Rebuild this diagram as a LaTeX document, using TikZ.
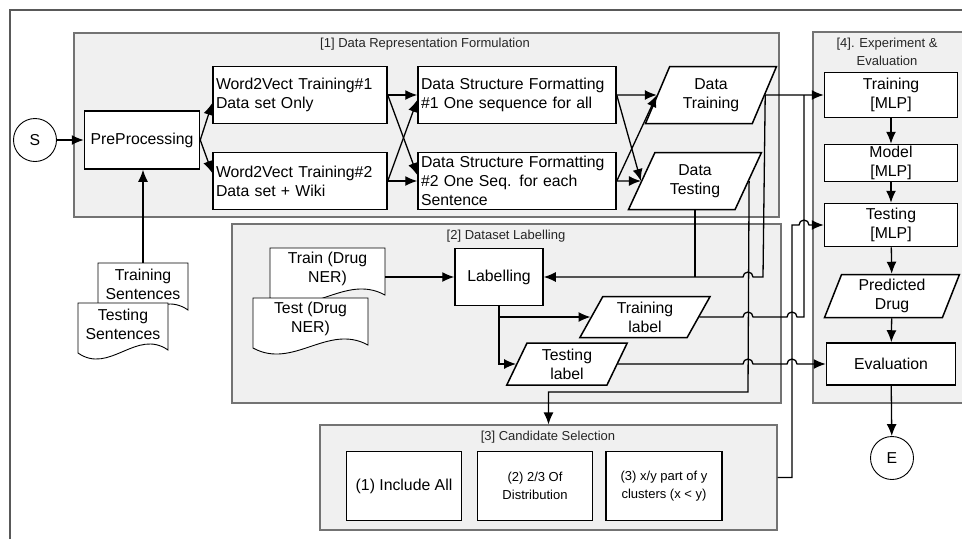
\documentclass[tikz,border=0pt]{standalone}
\usepackage{fontspec}
\setmainfont{Liberation Sans}
\usetikzlibrary{arrows.meta,shapes.geometric}

% document symbol: name, left, top, width, text
\newcommand{\drawdoc}[5]{%
  \draw[docline] (#2,#3) -- (#2+#4,#3) -- (#2+#4,#3+47)
    .. controls (#2+0.65*#4,#3+25) and (#2+0.35*#4,#3+72) .. (#2,#3+50) -- cycle;
  \node[doctext, minimum width=#4pt] (#1) at (#2+0.5*#4,#3+21) {#5};
}

\tikzset{
  frame/.style={draw=black!65, line width=1.2pt},
  group/.style={draw=black!55, line width=1.1pt, fill=black!6, inner sep=0pt},
  grouptitle/.style={font=\fontsize{13}{18}\selectfont, text=black!85, inner sep=1pt},
  block/.style={draw, line width=1.5pt, fill=white, inner xsep=3pt, inner ysep=1pt, align=center},
  leftblock/.style={block, align=left, text width=#1},
  dataio/.style={trapezium, trapezium stretches=true, trapezium left angle=64,
    trapezium right angle=116, draw, line width=1.5pt, fill=white, align=center, inner sep=1pt},
  term/.style={circle, draw, line width=0.9pt, fill=white, minimum size=43pt, inner sep=0pt},
  docline/.style={draw, line width=0.9pt, fill=white},
  doctext/.style={minimum height=42pt, inner sep=1pt, align=center},
  line/.style={line width=1.3pt},
  arr/.style={line width=1.3pt, -{Latex[length=12pt,width=10pt]}},
}

\begin{document}
\begin{tikzpicture}[x=1pt, y=-1pt, font=\fontsize{15.8}{19}\selectfont]
\useasboundingbox (0,0) rectangle (962,539);

\draw[frame] (10,539) -- (10,10) -- (962,10);

% groups
\node[group, minimum width=705pt, minimum height=184pt] (g1) at (426.5,125) {};
\node[group, minimum width=549pt, minimum height=179pt] (g2) at (506.5,313.5) {};
\node[group, minimum width=457pt, minimum height=105pt] (g3) at (548.5,477.5) {};
\node[group, minimum width=162pt, minimum height=371pt] (g4) at (894,217.5) {};
\node[grouptitle] (g1t) at (425,44) {[1] Data Representation Formulation};
\node[grouptitle] (g2t) at (506,236) {[2] Dataset Labelling};
\node[grouptitle] (g3t) at (548,437) {[3] Candidate Selection};
\node[grouptitle, align=center] (g4t) at (887,52) {[4]. Experiment \&\\Evaluation};

% [1]
\node[term] (S) at (35,140) {S};
\node[block, minimum width=115pt, minimum height=58pt] (pre) at (142,140) {PreProcessing};
\node[leftblock=168pt, minimum height=57pt] (w2v1) at (300,95) {Word2Vect Training\#1\\Data set Only};
\node[leftblock=168pt, minimum height=57pt] (w2v2) at (300,181) {Word2Vect Training\#2\\Data set + Wiki};
\node[leftblock=192pt, minimum height=57pt] (dsf1) at (517,95) {Data Structure Formatting\\\#1 One sequence for all};
\node[leftblock=192pt, minimum height=57pt] (dsf2) at (517,181) {Data Structure Formatting\\\#2 One Seq. for each\\Sentence};
\node[dataio, minimum width=132pt, minimum height=57pt] (dtrain) at (711,95) {Data\\Training};
\node[dataio, minimum width=134pt, minimum height=57pt] (dtest) at (695,181) {Data\\Testing};

\drawdoc{trsent}{98}{263}{90}{Training\\Sentences}
\drawdoc{tesent}{78}{303}{90}{Testing\\Sentences}

% [2]
\drawdoc{trdoc}{270}{248}{115}{Train (Drug\\NER)}
\drawdoc{tedoc}{253}{298}{115}{Test (Drug\\NER)}
\node[block, minimum width=88pt, minimum height=57pt] (lab) at (499,277) {Labelling};
\node[dataio, minimum width=131pt, minimum height=41pt] (trlab) at (645,317) {Training\\label};
\node[dataio, trapezium left angle=68, trapezium right angle=112, minimum width=121pt, minimum height=42pt] (telab) at (567,364) {Testing\\label};

% [3]
\node[block, minimum width=115pt, minimum height=69pt] (inc) at (404,486) {(1) Include All};
\node[block, minimum width=115pt, minimum height=69pt, font=\fontsize{13}{18}\selectfont] (dist) at (535,486) {(2) 2/3 Of\\Distribution};
\node[block, minimum width=116pt, minimum height=69pt, font=\fontsize{13}{18}\selectfont] (clus) at (664,486) {(3) x/y part of y\\clusters (x < y)};

% [4]
\node[block, minimum width=133pt, minimum height=45pt] (trmlp) at (891,95) {Training\\{[MLP]}};
\node[block, minimum width=133pt, minimum height=37pt] (model) at (891,163) {Model\\{[MLP]}};
\node[block, minimum width=133pt, minimum height=43pt] (temlp) at (891,225) {Testing\\{[MLP]}};
\node[dataio, trapezium left angle=72, trapezium right angle=108, minimum width=136pt, minimum height=43pt] (pred) at (892,296) {Predicted\\Drug};
\node[block, minimum width=129pt, minimum height=42pt] (eval) at (891,364) {Evaluation};
\node[term] (E) at (892,458) {E};

% connectors
\draw[arr] (S) -- (pre);
\draw[arr] (trsent.north) -- (trsent.north |- pre.south);
\draw[arr] (pre.east) -- ([yshift=-8pt]w2v1.west);
\draw[arr] (pre.east) -- ([yshift=8pt]w2v2.west);
\draw[arr] (w2v1.east) -- (dsf1.west);
\draw[arr] (w2v1.east) -- ([yshift=6pt]dsf2.west);
\draw[arr] (w2v2.east) -- (dsf2.west);
\draw[arr] (w2v2.east) -- ([yshift=-5pt]dsf1.west);
\draw[arr] (dsf1.east) -- (dtrain.west);
\draw[arr] (dsf1.east) -- (dtest.west);
\draw[arr] (dsf2.east) -- (dtest.west);
\draw[arr] (dsf2.east) -- (dtrain.west);

\draw[arr] (dtrain.east) -- (trmlp.west);
\draw[arr] (dtrain.east) -- (763,277) -- (753,277) arc[start angle=0, end angle=180, radius=5pt] -- (lab.east);
\draw[line] (dtest.center |- dtest.south) -- (dtest.center |- lab.east);
\draw[arr] (dtest.east) -- (748,392) -| (g3.north);

\draw[arr] (trdoc.east |- lab.west) -- (lab.west);
\draw[arr] (lab.south) -- (lab.south |- telab.west) -- (telab.west);
\draw[arr] (lab.south |- trlab.west) -- (trlab.west);

\draw[line] (trlab.east) -- (743,317) arc[start angle=180, end angle=0, radius=5pt] -- (787,317) arc[start angle=180, end angle=0, radius=5pt] -- (804,317) -- (804,95);
\draw[arr] (telab.east) -- (743,364) arc[start angle=180, end angle=0, radius=5pt] -- (787,364) arc[start angle=180, end angle=0, radius=5pt] -- (eval.west);
\draw[arr] (g3.east) -- (792,477.5) -- (792,225) -- (799,225) arc[start angle=180, end angle=0, radius=5pt] -- (temlp.west);

\draw[arr] (trmlp) -- (model);
\draw[arr] (model) -- (temlp);
\draw[arr] (temlp) -- (pred);
\draw[arr] (pred) -- (eval);
\draw[arr] (eval) -- (E);
\end{tikzpicture}
\end{document}
